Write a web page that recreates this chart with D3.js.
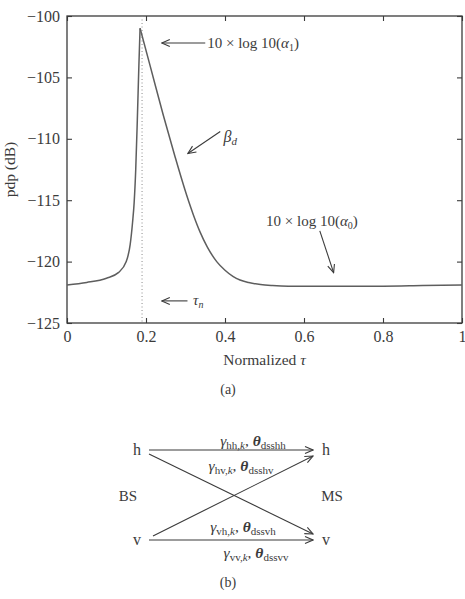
<!DOCTYPE html>
<html>

<head>
    <style>
        body { margin: 0; background: #fff; }
        svg text { font-family: "Liberation Serif", "DejaVu Serif", serif; fill: #3b3b3b; }
    </style>
</head>

<body>
    <script src="https://d3js.org/d3.v7.min.js"></script>
    <div id="chart"></div>
    <script>
        // values
        const tau = [0, 0.05, 0.1, 0.13, 0.15, 0.16, 0.166, 0.17, 0.174, 0.178, 0.182, 0.185,
            0.21, 0.244, 0.273, 0.303, 0.32, 0.337, 0.355, 0.379, 0.4, 0.42, 0.438, 0.46, 0.49,
            0.52, 0.56, 0.6, 0.7, 0.8, 0.9, 1.0]
        const pdp = [-121.9, -121.7, -121.35, -120.9, -120.0, -118.6, -116.8, -115.2, -112.5, -108.5, -104.0, -101.0,
            -104.0, -108.1, -111.4, -114.6, -116.2, -117.6, -118.8, -120.0, -120.7, -121.2, -121.5, -121.7, -121.87,
            -121.95, -122.0, -122.0, -122.0, -122.0, -121.95, -121.9]
        const tauN = 0.19
        const xTicks = [0, 0.2, 0.4, 0.6, 0.8, 1]
        const yTicks = [-100, -105, -110, -115, -120, -125]

        // diagram (b)
        const ports = ["h", "v"]
        const links = [
            { from: "h", to: "h", sub: "hh", theta: "dsshh" },
            { from: "h", to: "v", sub: "hv", theta: "dsshv" },
            { from: "v", to: "h", sub: "vh", theta: "dssvh" },
            { from: "v", to: "v", sub: "vv", theta: "dssvv" }
        ]

        const width = 465
        const height = 599
        const margin = { left: 67, right: 3, top: 16, bottom: 276 }

        const svg = d3.select("#chart").append("svg")
            .attr("width", width).attr("height", height)

        const defs = svg.append("defs")
        defs.append("marker")
            .attr("id", "head")
            .attr("viewBox", "0 0 10 10")
            .attr("refX", 9).attr("refY", 5)
            .attr("markerWidth", 10).attr("markerHeight", 10)
            .attr("markerUnits", "userSpaceOnUse")
            .attr("orient", "auto")
            .append("path")
            .attr("d", "M1,1.5 L9,5 L1,8.5")
            .attr("fill", "none")
            .attr("stroke", "#3b3b3b")
            .attr("stroke-width", 1.1)

        const x = d3.scaleLinear().domain([0, 1]).range([margin.left, width - margin.right])
        const y = d3.scaleLinear().domain([-125, -100]).range([height - margin.bottom, margin.top])

        const axisColor = "#3b3b3b"
        const styleAxis = (g) => {
            g.selectAll(".domain").remove()
            g.selectAll("line").attr("stroke", axisColor).attr("stroke-width", 1.1)
            g.selectAll("text").style("font-size", "16px").attr("fill", "#3b3b3b")
        }

        svg.append("g")
            .attr("transform", "translate(0," + y(-125) + ")")
            .call(d3.axisBottom(x).tickValues(xTicks).tickSize(-5).tickPadding(8)
                .tickFormat(d => d === 0 || d === 1 ? d3.format("d")(d) : d3.format(".1f")(d)))
            .call(styleAxis)
        svg.append("g")
            .attr("transform", "translate(0," + y(-100) + ")")
            .call(d3.axisTop(x).tickValues(xTicks).tickSize(-5).tickFormat(""))
            .call(styleAxis)
        svg.append("g")
            .attr("transform", "translate(" + x(0) + ",0)")
            .call(d3.axisLeft(y).tickValues(yTicks).tickSize(-5).tickPadding(7))
            .call(styleAxis)
        svg.append("g")
            .attr("transform", "translate(" + x(1) + ",0)")
            .call(d3.axisRight(y).tickValues(yTicks).tickSize(-5).tickFormat(""))
            .call(styleAxis)

        // box
        svg.append("rect")
            .attr("x", x(0)).attr("y", y(-100))
            .attr("width", x(1) - x(0)).attr("height", y(-125) - y(-100))
            .attr("fill", "none").attr("stroke", axisColor).attr("stroke-width", 1.3)

        // dotted tau_n line
        svg.append("line")
            .attr("x1", x(tauN)).attr("x2", x(tauN))
            .attr("y1", y(-100)).attr("y2", y(-125))
            .attr("stroke", "#8a8a8a").attr("stroke-width", 1)
            .attr("stroke-dasharray", "1,2.5")

        // curve, drawn as rise + decay so the peak stays sharp
        const points = tau.map((t, i) => [t, pdp[i]])
        const peak = d3.maxIndex(pdp)
        const line = d3.line().x(d => x(d[0])).y(d => y(d[1])).curve(d3.curveMonotoneX)
        svg.selectAll(".pdp")
            .data([points.slice(0, peak + 1), points.slice(peak)])
            .enter()
            .append("path")
            .attr("class", "pdp")
            .attr("fill", "none")
            .attr("stroke", "#5e5e5e")
            .attr("stroke-width", 1.5)
            .attr("stroke-linejoin", "round")
            .attr("d", line)

        // axis titles
        const xt = svg.append("text")
            .attr("x", (x(0) + x(1)) / 2).attr("y", 365)
            .attr("text-anchor", "middle").style("font-size", "15.5px")
        xt.append("tspan").text("Normalized ")
        xt.append("tspan").attr("font-style", "italic").text("τ")

        svg.append("text")
            .attr("transform", "translate(15," + (y(-112.5)) + ") rotate(-90)")
            .attr("text-anchor", "middle").style("font-size", "15.5px")
            .text("pdp (dB)")

        svg.append("text")
            .attr("x", 228).attr("y", 394)
            .attr("text-anchor", "middle").style("font-size", "14px")
            .text("(a)")

        // annotations (data coordinates)
        const arrow = (t1, v1, t2, v2) => {
            svg.append("line")
                .attr("x1", x(t1)).attr("y1", y(v1))
                .attr("x2", x(t2)).attr("y2", y(v2))
                .attr("stroke", "#3b3b3b").attr("stroke-width", 1.1)
                .attr("marker-end", "url(#head)")
        }

        arrow(0.35, -102.2, 0.24, -102.2)
        const a1 = svg.append("text").attr("x", x(0.355)).attr("y", y(-102.6)).style("font-size", "15px")
        a1.append("tspan").text("10 × log 10(")
        a1.append("tspan").attr("font-style", "italic").text("α")
        a1.append("tspan").attr("dy", 3).style("font-size", "10px").text("1")
        a1.append("tspan").attr("dy", -3).text(")")

        arrow(0.388, -109.4, 0.306, -111.2)
        const bd = svg.append("text").attr("x", x(0.396)).attr("y", y(-110.3)).style("font-size", "16px")
        bd.append("tspan").attr("font-style", "italic").text("β")
        bd.append("tspan").attr("dy", 3).attr("font-style", "italic").style("font-size", "11px").text("d")

        arrow(0.305, -123.2, 0.24, -123.2)
        const tn = svg.append("text").attr("x", x(0.319)).attr("y", y(-123.5)).style("font-size", "15px")
        tn.append("tspan").attr("font-style", "italic").text("τ")
        tn.append("tspan").attr("dy", 3).attr("font-style", "italic").style("font-size", "10px").text("n")

        const a0 = svg.append("text").attr("x", x(0.504)).attr("y", y(-117.1)).style("font-size", "15px")
        a0.append("tspan").text("10 × log 10(")
        a0.append("tspan").attr("font-style", "italic").text("α")
        a0.append("tspan").attr("dy", 3).style("font-size", "10px").text("0")
        a0.append("tspan").attr("dy", -3).text(")")
        arrow(0.64, -117.5, 0.675, -120.9)

        // ---- diagram (b)
        const rowY = d3.scalePoint().domain(ports).range([450, 540])
        const nodeX = { BS: 137, MS: 326 }
        const arrowX = { BS: 149, MS: 313 }

        ports.forEach(p => {
            svg.append("text").attr("x", nodeX.BS).attr("y", rowY(p) + 5)
                .attr("text-anchor", "middle").style("font-size", "16px").text(p)
            svg.append("text").attr("x", nodeX.MS).attr("y", rowY(p) + 5)
                .attr("text-anchor", "middle").style("font-size", "16px").text(p)
        })
        svg.append("text").attr("x", 128).attr("y", 501)
            .attr("text-anchor", "middle").style("font-size", "15px").text("BS")
        svg.append("text").attr("x", 332).attr("y", 501)
            .attr("text-anchor", "middle").style("font-size", "15px").text("MS")

        const labelPos = {
            hh: [253, 446], hv: [241, 471], vh: [243, 532], vv: [256, 558]
        }

        links.forEach(l => {
            const y1 = rowY(l.from) + (l.from === l.to ? 0 : (l.from === "h" ? 4 : -4))
            const y2 = rowY(l.to) + (l.from === l.to ? 0 : (l.to === "h" ? 6 : -6))
            svg.append("line")
                .attr("x1", arrowX.BS + (l.from !== l.to && l.from === "v" ? 4 : 0)).attr("y1", y1)
                .attr("x2", arrowX.MS).attr("y2", y2)
                .attr("stroke", "#3b3b3b").attr("stroke-width", 1.1)
                .attr("marker-end", "url(#head)")

            const pos = labelPos[l.sub]
            const t = svg.append("text").attr("x", pos[0]).attr("y", pos[1])
                .attr("text-anchor", "middle").style("font-size", "15.5px")
            t.append("tspan").attr("font-style", "italic").text("γ")
            t.append("tspan").attr("dy", 3).style("font-size", "11px").text(l.sub + ",")
            t.append("tspan").attr("font-style", "italic").style("font-size", "11px").text("k")
            t.append("tspan").attr("dy", -3).text(", ")
            t.append("tspan").attr("font-style", "italic").attr("font-weight", "bold").text("θ")
            t.append("tspan").attr("dy", 3).style("font-size", "11px").text(l.theta)
        })

        svg.append("text")
            .attr("x", 228).attr("y", 587)
            .attr("text-anchor", "middle").style("font-size", "14px")
            .text("(b)")
    </script>
</body>

</html>
